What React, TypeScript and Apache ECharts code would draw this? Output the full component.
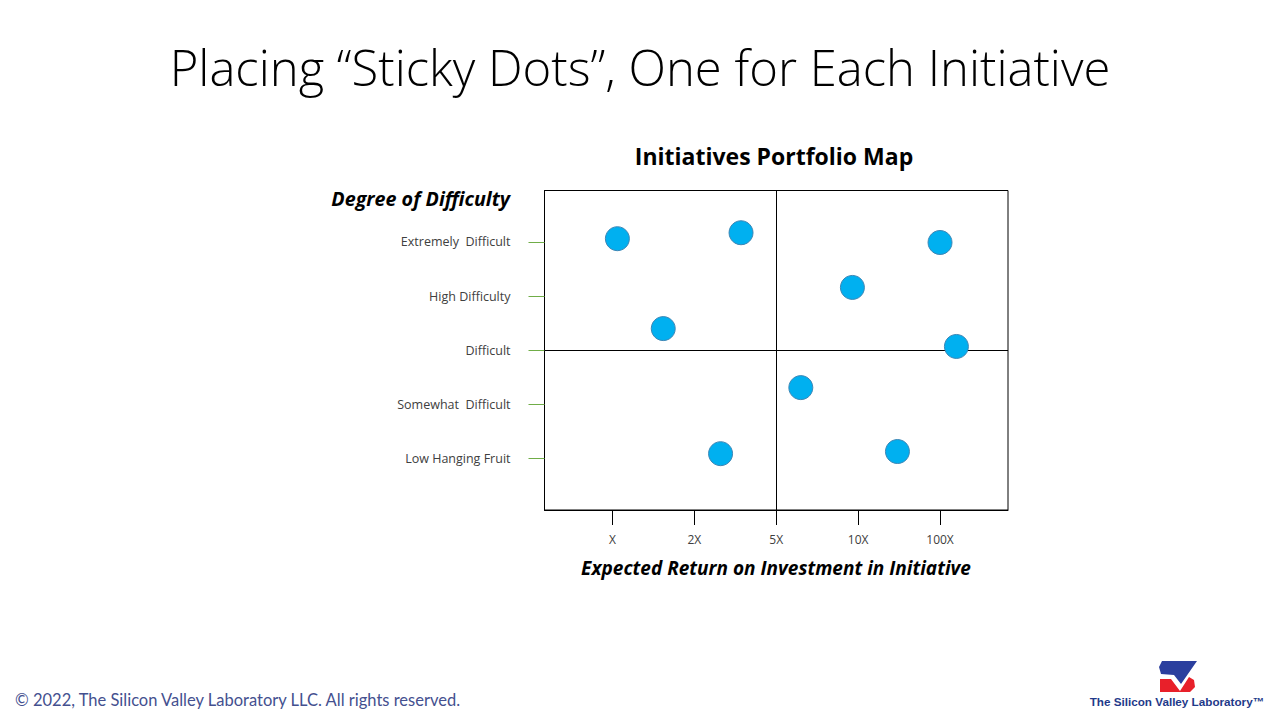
import React, { useEffect, useRef } from "react";
import * as echarts from "echarts";

const xTickValues = [0, 1, 2, 3, 4];
const xTickLabels = ["X", "2X", "5X", "10X", "100X"];
const yTickValues = [0, 1, 2, 3, 4];
const yTickLabels = ["Low Hanging Fruit", "Somewhat  Difficult", "Difficult", "High Difficulty", "Extremely  Difficult"];

const dotX = [0.06, 1.57, 0.62, 4.0, 2.93, 4.2, 2.3, 1.32, 3.48];
const dotY = [4.06, 4.17, 2.4, 3.99, 3.16, 2.07, 1.31, 0.09, 0.13];

const quadrantX = 2;
const quadrantY = 2;

export default function App() {
  const ref = useRef<HTMLDivElement>(null);
  useEffect(() => {
    if (!ref.current) return;
    const chart = echarts.init(ref.current, null, { renderer: "svg" });
    const lato = "Lato, 'Noto Sans', sans-serif";
    const open = "'Open Sans', 'Noto Sans', sans-serif";
    const option = {
      animation: false,
      backgroundColor: "#ffffff",
      grid: {
        left: 544.5,
        top: 190.5,
        right: 272,
        bottom: 210,
        show: true,
        borderColor: "#000000",
        borderWidth: 1,
        backgroundColor: "transparent",
      },
      xAxis: {
        type: "value",
        min: -0.83,
        max: 4.83,
        splitLine: { show: false },
        axisLine: { show: true, onZero: false, lineStyle: { color: "#000000", width: 1 } },
        axisTick: {
          show: true,
          customValues: xTickValues,
          length: 15,
          lineStyle: { color: "#000000", width: 1 },
        },
        axisLabel: {
          customValues: xTickValues,
          margin: 23,
          color: "#404040",
          fontFamily: open,
          fontSize: 12,
          formatter: (v: number) => xTickLabels[Math.round(v)] ?? "",
        },
      },
      yAxis: {
        type: "value",
        min: -0.95,
        max: 4.95,
        splitLine: { show: false },
        axisLine: { show: true, onZero: false, lineStyle: { color: "#000000", width: 1 } },
        axisTick: {
          show: true,
          customValues: yTickValues,
          length: 16,
          lineStyle: { color: "#70AD47", width: 1 },
        },
        axisLabel: {
          customValues: yTickValues,
          margin: 34,
          color: "#404040",
          fontFamily: open,
          fontSize: 12.5,
          formatter: (v: number) => yTickLabels[Math.round(v)] ?? "",
        },
      },
      series: [
        {
          type: "scatter",
          symbol: "circle",
          symbolSize: 24,
          data: dotX.map((x, i) => [x, dotY[i]]),
          itemStyle: { color: "#00B0F0", borderColor: "#3D86B5", borderWidth: 1, opacity: 1 },
          z: 5,
          markLine: {
            silent: true,
            symbol: "none",
            label: { show: false },
            lineStyle: { color: "#000000", type: "solid", width: 1 },
            data: [{ xAxis: quadrantX }, { yAxis: quadrantY }],
            z: 3,
          },
        },
      ],
      graphic: [
        {
          type: "text",
          x: 640,
          y: 67,
          style: {
            text: "Placing “Sticky Dots”, One for Each Initiative",
            font: `300 49px ${open}`,
            fill: "#000000",
            textAlign: "center",
            textVerticalAlign: "middle",
          },
        },
        {
          type: "text",
          x: 774,
          y: 156,
          style: {
            text: "Initiatives Portfolio Map",
            font: `bold 23px ${open}`,
            fill: "#000000",
            textAlign: "center",
            textVerticalAlign: "middle",
          },
        },
        {
          type: "text",
          x: 510,
          y: 198,
          style: {
            text: "Degree of Difficulty",
            font: `italic bold 19.7px ${open}`,
            fill: "#000000",
            textAlign: "right",
            textVerticalAlign: "middle",
          },
        },
        {
          type: "text",
          x: 776,
          y: 568,
          style: {
            text: "Expected Return on Investment in Initiative",
            font: `italic bold 19px ${open}`,
            fill: "#000000",
            textAlign: "center",
            textVerticalAlign: "middle",
          },
        },
        {
          type: "text",
          x: 15,
          y: 700,
          style: {
            text: "© 2022, The Silicon Valley Laboratory LLC. All rights reserved.",
            font: `16.5px ${lato}`,
            fill: "#44508F",
            textAlign: "left",
            textVerticalAlign: "middle",
          },
        },
        {
          type: "polygon",
          shape: {
            points: [
              [1162, 661], [1197, 661], [1181, 684], [1174, 675], [1161, 674], [1159, 667],
            ],
          },
          style: { fill: "#2B3F9E" },
        },
        {
          type: "polygon",
          shape: {
            points: [
              [1160, 679], [1171, 679], [1180, 691], [1189, 677], [1194, 680], [1195, 687], [1190, 692], [1160, 692],
            ],
          },
          style: { fill: "#E8202A" },
        },
        {
          type: "text",
          x: 1177,
          y: 701,
          style: {
            text: "The Silicon Valley Laboratory™",
            font: "bold 11.7px 'Liberation Sans', Arial, sans-serif",
            fill: "#1F3A8A",
            textAlign: "center",
            textVerticalAlign: "middle",
          },
        },
      ],
    };
    chart.setOption(option as any);
    return () => chart.dispose();
  }, []);
  return (
    <div
      ref={ref}
      style={{ position: "fixed", left: 0, top: 0, width: 1280, height: 720 }}
    />
  );
}
